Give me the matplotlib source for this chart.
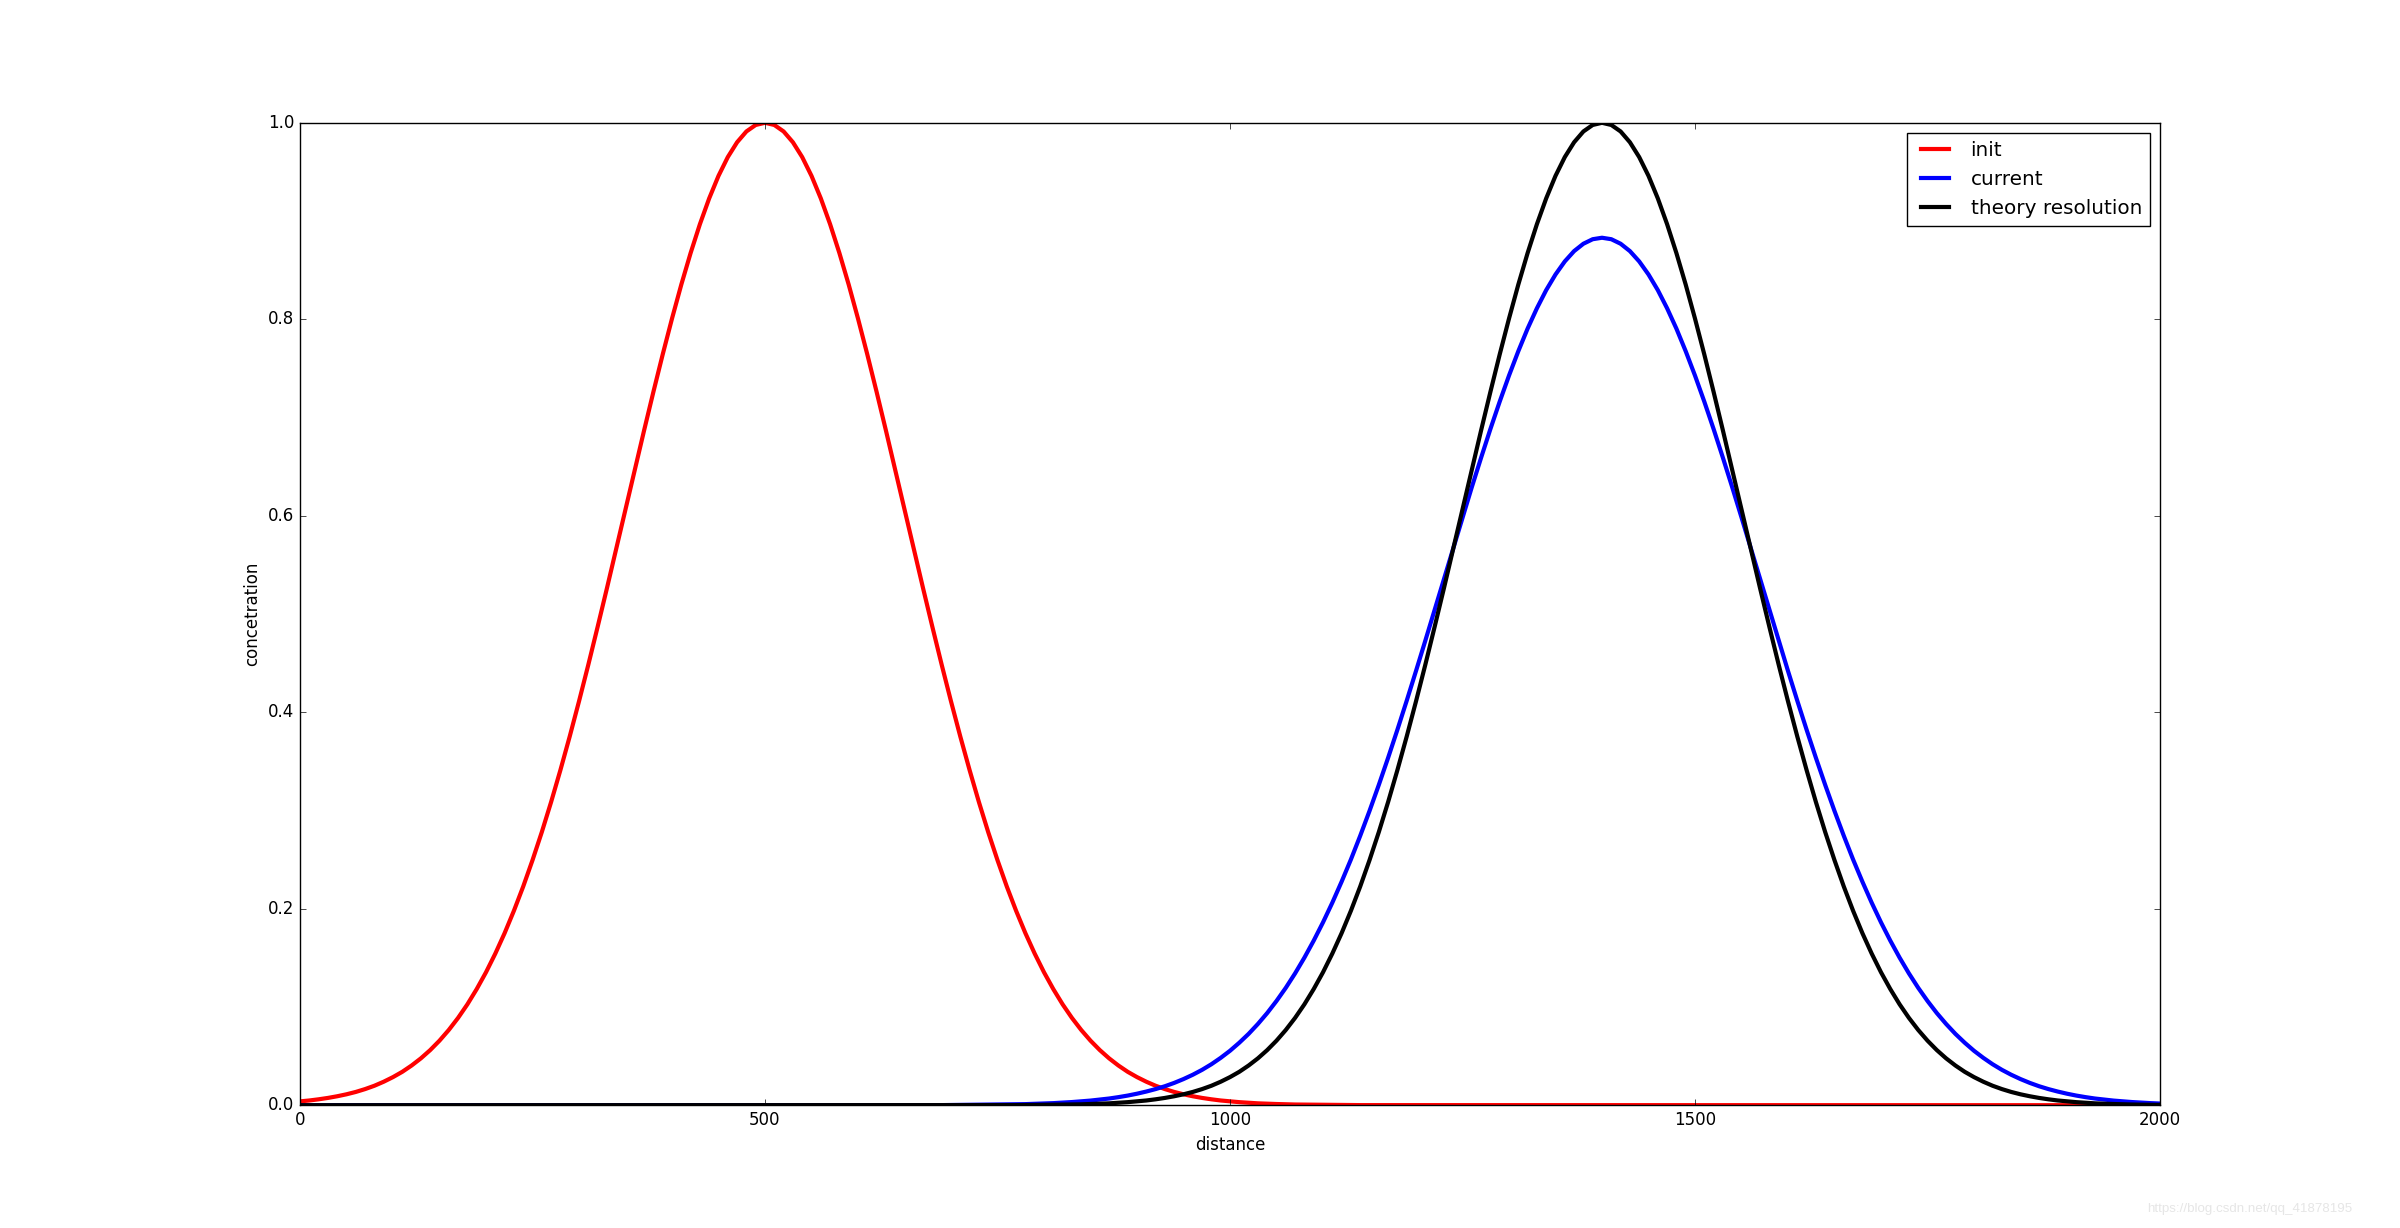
import matplotlib
matplotlib.use("Agg")
import matplotlib.pyplot as plt

# distance grid (step 10) and curve values
distance = list(range(0, 2001, 10))

init = [
    0.0039, 0.0048, 0.0060, 0.0074, 0.0091, 0.0111, 0.0135, 0.0164, 0.0198, 0.0239,
    0.0286, 0.0340, 0.0404, 0.0477, 0.0561, 0.0657, 0.0766, 0.0889, 0.1027, 0.1182,
    0.1353, 0.1543, 0.1751, 0.1979, 0.2226, 0.2494, 0.2780, 0.3086, 0.3411, 0.3753,
    0.4111, 0.4483, 0.4868, 0.5261, 0.5662, 0.6065, 0.6469, 0.6869, 0.7261, 0.7642,
    0.8007, 0.8353, 0.8674, 0.8968, 0.9231, 0.9460, 0.9651, 0.9802, 0.9912, 0.9978,
    1.0000, 0.9978, 0.9912, 0.9802, 0.9651, 0.9460, 0.9231, 0.8968, 0.8674, 0.8353,
    0.8007, 0.7642, 0.7261, 0.6869, 0.6469, 0.6065, 0.5662, 0.5261, 0.4868, 0.4483,
    0.4111, 0.3753, 0.3411, 0.3086, 0.2780, 0.2494, 0.2226, 0.1979, 0.1751, 0.1543,
    0.1353, 0.1182, 0.1027, 0.0889, 0.0766, 0.0657, 0.0561, 0.0477, 0.0404, 0.0340,
    0.0286, 0.0239, 0.0198, 0.0164, 0.0135, 0.0111, 0.0091, 0.0074, 0.0060, 0.0048,
    0.0039, 0.0031, 0.0025, 0.0019, 0.0015, 0.0012, 0.0009, 0.0007, 0.0006, 0.0004,
    0.0003, 0.0003, 0.0002, 0.0001, 0.0001, 0.0001, 0.0, 0.0, 0.0, 0.0,
    0.0, 0.0, 0.0, 0.0, 0.0, 0.0, 0.0, 0.0, 0.0, 0.0,
    0.0, 0.0, 0.0, 0.0, 0.0, 0.0, 0.0, 0.0, 0.0, 0.0,
    0.0, 0.0, 0.0, 0.0, 0.0, 0.0, 0.0, 0.0, 0.0, 0.0,
    0.0, 0.0, 0.0, 0.0, 0.0, 0.0, 0.0, 0.0, 0.0, 0.0,
    0.0, 0.0, 0.0, 0.0, 0.0, 0.0, 0.0, 0.0, 0.0, 0.0,
    0.0, 0.0, 0.0, 0.0, 0.0, 0.0, 0.0, 0.0, 0.0, 0.0,
    0.0, 0.0, 0.0, 0.0, 0.0, 0.0, 0.0, 0.0, 0.0, 0.0,
    0.0, 0.0, 0.0, 0.0, 0.0, 0.0, 0.0, 0.0, 0.0, 0.0,
    0.0,
]

current = [
    0.0, 0.0, 0.0, 0.0, 0.0, 0.0, 0.0, 0.0, 0.0, 0.0,
    0.0, 0.0, 0.0, 0.0, 0.0, 0.0, 0.0, 0.0, 0.0, 0.0,
    0.0, 0.0, 0.0, 0.0, 0.0, 0.0, 0.0, 0.0, 0.0, 0.0,
    0.0, 0.0, 0.0, 0.0, 0.0, 0.0, 0.0, 0.0, 0.0, 0.0,
    0.0, 0.0, 0.0, 0.0, 0.0, 0.0, 0.0, 0.0, 0.0, 0.0,
    0.0, 0.0, 0.0, 0.0, 0.0, 0.0, 0.0, 0.0, 0.0, 0.0,
    0.0, 0.0, 0.0, 0.0, 0.0, 0.0, 0.0, 0.0001, 0.0001, 0.0001,
    0.0002, 0.0002, 0.0003, 0.0004, 0.0005, 0.0006, 0.0007, 0.0009, 0.0011, 0.0014,
    0.0017, 0.0021, 0.0026, 0.0032, 0.0039, 0.0047, 0.0057, 0.0068, 0.0082, 0.0098,
    0.0117, 0.0139, 0.0164, 0.0193, 0.0227, 0.0266, 0.0310, 0.0360, 0.0417, 0.0482,
    0.0554, 0.0636, 0.0726, 0.0827, 0.0938, 0.1061, 0.1195, 0.1342, 0.1502, 0.1675,
    0.1861, 0.2061, 0.2275, 0.2501, 0.2742, 0.2995, 0.3260, 0.3536, 0.3822, 0.4117,
    0.4420, 0.4728, 0.5041, 0.5356, 0.5670, 0.5983, 0.6291, 0.6591, 0.6883, 0.7162,
    0.7427, 0.7675, 0.7905, 0.8112, 0.8297, 0.8456, 0.8589, 0.8694, 0.8769, 0.8815,
    0.8830, 0.8815, 0.8769, 0.8694, 0.8589, 0.8456, 0.8297, 0.8112, 0.7905, 0.7675,
    0.7427, 0.7162, 0.6883, 0.6591, 0.6291, 0.5983, 0.5670, 0.5356, 0.5041, 0.4728,
    0.4420, 0.4117, 0.3822, 0.3536, 0.3260, 0.2995, 0.2742, 0.2501, 0.2275, 0.2061,
    0.1861, 0.1675, 0.1502, 0.1342, 0.1195, 0.1061, 0.0938, 0.0827, 0.0726, 0.0636,
    0.0554, 0.0482, 0.0417, 0.0360, 0.0310, 0.0266, 0.0227, 0.0193, 0.0164, 0.0139,
    0.0117, 0.0098, 0.0082, 0.0068, 0.0057, 0.0047, 0.0039, 0.0032, 0.0026, 0.0021,
    0.0017,
]

theory = [
    0.0, 0.0, 0.0, 0.0, 0.0, 0.0, 0.0, 0.0, 0.0, 0.0,
    0.0, 0.0, 0.0, 0.0, 0.0, 0.0, 0.0, 0.0, 0.0, 0.0,
    0.0, 0.0, 0.0, 0.0, 0.0, 0.0, 0.0, 0.0, 0.0, 0.0,
    0.0, 0.0, 0.0, 0.0, 0.0, 0.0, 0.0, 0.0, 0.0, 0.0,
    0.0, 0.0, 0.0, 0.0, 0.0, 0.0, 0.0, 0.0, 0.0, 0.0,
    0.0, 0.0, 0.0, 0.0, 0.0, 0.0, 0.0, 0.0, 0.0, 0.0,
    0.0, 0.0, 0.0, 0.0, 0.0, 0.0, 0.0, 0.0, 0.0, 0.0,
    0.0, 0.0, 0.0, 0.0, 0.0, 0.0001, 0.0001, 0.0001, 0.0002, 0.0003,
    0.0003, 0.0004, 0.0006, 0.0007, 0.0009, 0.0012, 0.0015, 0.0019, 0.0025, 0.0031,
    0.0039, 0.0048, 0.0060, 0.0074, 0.0091, 0.0111, 0.0135, 0.0164, 0.0198, 0.0239,
    0.0286, 0.0340, 0.0404, 0.0477, 0.0561, 0.0657, 0.0766, 0.0889, 0.1027, 0.1182,
    0.1353, 0.1543, 0.1751, 0.1979, 0.2226, 0.2494, 0.2780, 0.3086, 0.3411, 0.3753,
    0.4111, 0.4483, 0.4868, 0.5261, 0.5662, 0.6065, 0.6469, 0.6869, 0.7261, 0.7642,
    0.8007, 0.8353, 0.8674, 0.8968, 0.9231, 0.9460, 0.9651, 0.9802, 0.9912, 0.9978,
    1.0000, 0.9978, 0.9912, 0.9802, 0.9651, 0.9460, 0.9231, 0.8968, 0.8674, 0.8353,
    0.8007, 0.7642, 0.7261, 0.6869, 0.6469, 0.6065, 0.5662, 0.5261, 0.4868, 0.4483,
    0.4111, 0.3753, 0.3411, 0.3086, 0.2780, 0.2494, 0.2226, 0.1979, 0.1751, 0.1543,
    0.1353, 0.1182, 0.1027, 0.0889, 0.0766, 0.0657, 0.0561, 0.0477, 0.0404, 0.0340,
    0.0286, 0.0239, 0.0198, 0.0164, 0.0135, 0.0111, 0.0091, 0.0074, 0.0060, 0.0048,
    0.0039, 0.0031, 0.0025, 0.0019, 0.0015, 0.0012, 0.0009, 0.0007, 0.0006, 0.0004,
    0.0003,
]

plt.style.use("classic")

fig = plt.figure(figsize=(24, 12.28), facecolor="white")
ax = fig.add_axes([0.125, 0.1, 0.775, 0.8])

ax.plot(distance, init, color="r", linewidth=3, label="init")
ax.plot(distance, current, color="b", linewidth=3, label="current")
ax.plot(distance, theory, color="k", linewidth=3, label="theory resolution")

ax.set_xlim(0, 2000)
ax.set_ylim(0, 1.0)
ax.set_xticks([0, 500, 1000, 1500, 2000])
ax.set_yticks([0.0, 0.2, 0.4, 0.6, 0.8, 1.0])
ax.set_xlabel("distance")
ax.set_ylabel("concetration")
ax.legend(loc="upper right", fontsize=14.4)

# blog watermark, bottom right
fig.text(0.8946, 0.0155, "https://blog.csdn.net/qq_41878195", ha="left", va="center",
         fontsize=9.6, color="#e6e6e6", family="Liberation Sans")

fig.savefig("out.png", dpi=100, facecolor="white")
